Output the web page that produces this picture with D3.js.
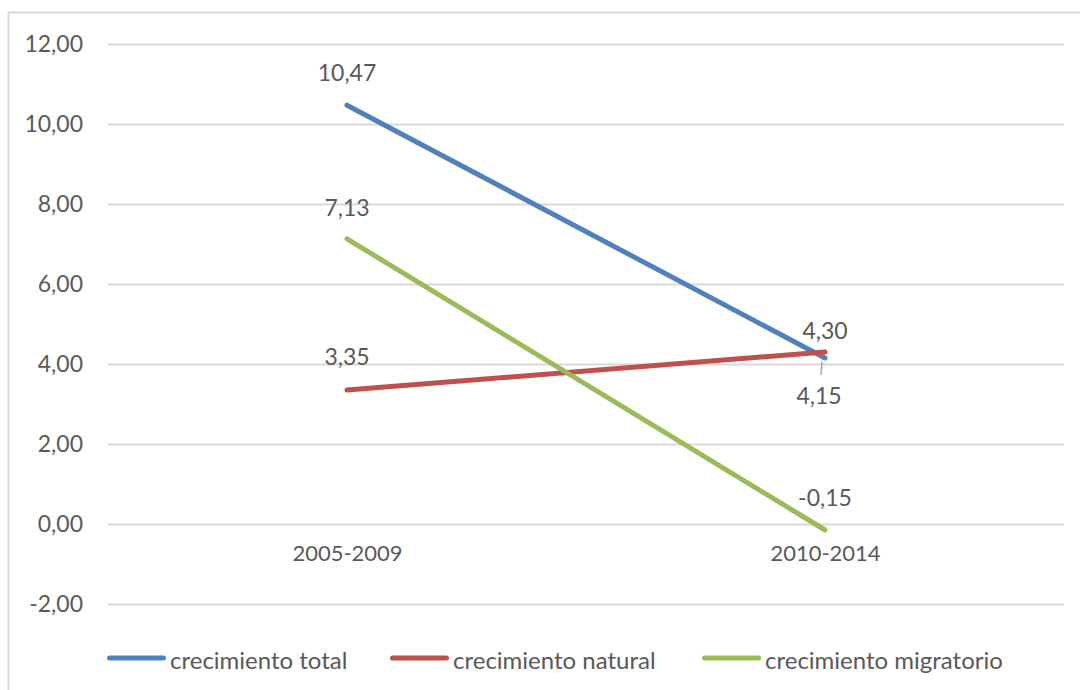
<!DOCTYPE html>
<html><head><meta charset="utf-8">
<script src="https://cdn.jsdelivr.net/npm/d3@7"></script>
<style>body{margin:0;background:#fff}text{font-family:Lato, "Open Sans", sans-serif;fill:#595959}</style>
</head><body>
<svg id="c" width="1080" height="690"></svg>
<script>
const categories = ["2005-2009", "2010-2014"];
const seriesNames = ["crecimiento total", "crecimiento natural", "crecimiento migratorio"];
const seriesColors = ["#4F81BD", "#C0504D", "#9BBB59"];
const totalValues = [10.47, 4.15];
const naturalValues = [3.35, 4.30];
const migratorioValues = [7.13, -0.15];
const yTicks = [-2, 0, 2, 4, 6, 8, 10, 12];

const series = [totalValues, naturalValues, migratorioValues];
const fmt = v => d3.format(".2f")(v).replace(".", ",").replace("−", "-");

const svg = d3.select("#c");
const fsNum = 23, fsCat = 22, fsLeg = 24;
svg.append("rect").attr("x", 8.5).attr("y", 12.5).attr("width", 1075).attr("height", 690)
  .attr("fill", "#fff").attr("stroke", "#d9d9d9").attr("stroke-width", 2);

const x = d3.scalePoint().domain(categories).range([108, 1064]).padding(0.5);
const y = d3.scaleLinear().domain([-2, 12]).range([604, 44]);

// gridlines
svg.append("g").selectAll("line").data(yTicks).join("line")
  .attr("x1", 108).attr("x2", 1064)
  .attr("y1", d => Math.round(y(d)) + 0.5).attr("y2", d => Math.round(y(d)) + 0.5)
  .attr("stroke", "#d9d9d9").attr("stroke-width", 2);

// y axis labels
const yAxis = d3.axisLeft(y).tickValues(yTicks).tickFormat(fmt).tickSize(0).tickPadding(0);
const ga = svg.append("g").attr("transform", "translate(83,0)").call(yAxis);
ga.select(".domain").remove();
ga.selectAll("text").attr("font-size", fsNum).attr("font-family", "Lato").attr("fill", "#595959");

// category labels
const xAxis = d3.axisBottom(x).tickSize(0).tickPadding(0);
const gx = svg.append("g").attr("transform", `translate(0,${y(0) + 21})`).call(xAxis);
gx.select(".domain").remove();
gx.selectAll("text").attr("font-size", fsCat).attr("font-family", "Lato").attr("fill", "#595959");

// lines
const line = d3.line().x((d, i) => x(categories[i])).y(d => y(d));
svg.append("g").selectAll("path").data(series).join("path")
  .attr("d", d => line(d)).attr("fill", "none")
  .attr("stroke", (d, i) => seriesColors[i]).attr("stroke-width", 5).attr("stroke-linecap", "round");

// data labels
const labelOffsets = [[-33, 37], [-34, -22], [-32, -33]];
const labels = [];
series.forEach((vals, s) => vals.forEach((v, i) => {
  labels.push({ s, i, v, dy: labelOffsets[s][i] });
}));
// leader line for 4,15
svg.append("line").attr("x1", x(categories[1]) - 3).attr("y1", y(totalValues[1]) + 4)
  .attr("x2", x(categories[1]) - 4).attr("y2", y(totalValues[1]) + 17)
  .attr("stroke", "#a6a6a6").attr("stroke-width", 1.5);
svg.append("g").selectAll("text").data(labels).join("text")
  .attr("x", d => x(categories[d.i]) + (d.s === 0 && d.i === 1 ? -6 : 0))
  .attr("y", d => y(d.v) + d.dy)
  .attr("text-anchor", "middle").attr("dominant-baseline", "central")
  .attr("font-size", fsNum).text(d => fmt(d.v));

// legend
const legendX = [107, 390, 702];
const lg = svg.append("g").selectAll("g").data(seriesNames).join("g")
  .attr("transform", (d, i) => `translate(${legendX[i]},658)`);
lg.append("line").attr("x1", 2.5).attr("x2", 56.5).attr("y1", 0).attr("y2", 0)
  .attr("stroke", (d, i) => seriesColors[i]).attr("stroke-width", 5).attr("stroke-linecap", "round");
lg.append("text").attr("x", 63).attr("y", 1).attr("dominant-baseline", "central")
  .attr("font-size", fsLeg).text(d => d);
</script>
</body></html>
